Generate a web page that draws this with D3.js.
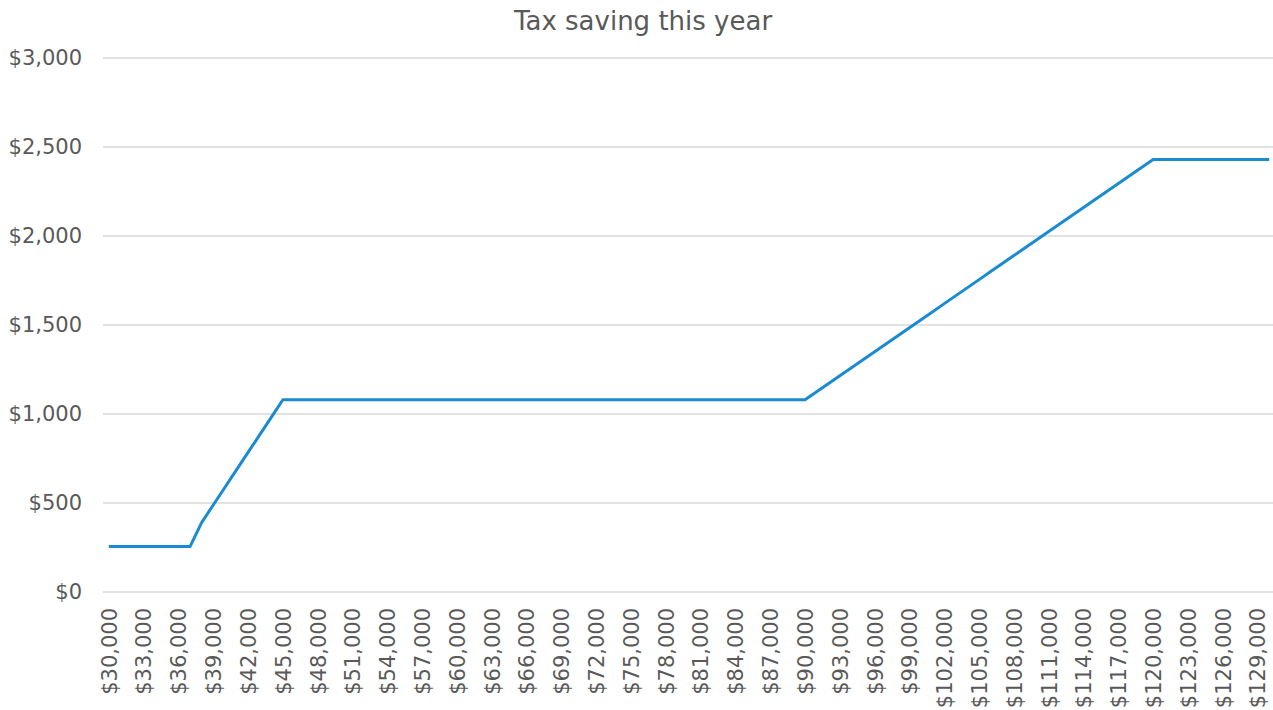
<!DOCTYPE html>
<html>
<head>
<meta charset="utf-8">
<script src="https://cdn.jsdelivr.net/npm/d3@7"></script>
<style>
  body { margin: 0; background: #fff; }
  svg { display: block; font-family: "DejaVu Sans", Verdana, sans-serif; }
</style>
</head>
<body>
<svg id="chart"></svg>
<script>
const width = 1273, height = 710;
const margin = { top: 58, right: -2, bottom: 118, left: 103 };

// Chart data
const chartTitle = "Tax saving this year";
const incomes = [
  30000, 31000, 32000, 33000, 34000, 35000, 36000, 37000, 38000, 39000,
  40000, 41000, 42000, 43000, 44000, 45000, 46000, 47000, 48000, 49000,
  50000, 51000, 52000, 53000, 54000, 55000, 56000, 57000, 58000, 59000,
  60000, 61000, 62000, 63000, 64000, 65000, 66000, 67000, 68000, 69000,
  70000, 71000, 72000, 73000, 74000, 75000, 76000, 77000, 78000, 79000,
  80000, 81000, 82000, 83000, 84000, 85000, 86000, 87000, 88000, 89000,
  90000, 91000, 92000, 93000, 94000, 95000, 96000, 97000, 98000, 99000,
  100000, 101000, 102000, 103000, 104000, 105000, 106000, 107000, 108000, 109000,
  110000, 111000, 112000, 113000, 114000, 115000, 116000, 117000, 118000, 119000,
  120000, 121000, 122000, 123000, 124000, 125000, 126000, 127000, 128000, 129000,
  130000
];
const savings = [
  255, 255, 255, 255, 255, 255, 255, 255, 390, 489,
  587, 686, 784, 883, 981, 1080, 1080, 1080, 1080, 1080,
  1080, 1080, 1080, 1080, 1080, 1080, 1080, 1080, 1080, 1080,
  1080, 1080, 1080, 1080, 1080, 1080, 1080, 1080, 1080, 1080,
  1080, 1080, 1080, 1080, 1080, 1080, 1080, 1080, 1080, 1080,
  1080, 1080, 1080, 1080, 1080, 1080, 1080, 1080, 1080, 1080,
  1080, 1125, 1170, 1215, 1260, 1305, 1350, 1395, 1440, 1485,
  1530, 1575, 1620, 1665, 1710, 1755, 1800, 1845, 1890, 1935,
  1980, 2025, 2070, 2115, 2160, 2205, 2250, 2295, 2340, 2385,
  2430, 2430, 2430, 2430, 2430, 2430, 2430, 2430, 2430, 2430,
  2430
];
const yTicks = [0, 500, 1000, 1500, 2000, 2500, 3000];
const xTickLabels = incomes.filter((d, i) => i % 3 === 0 && i < 100);

const data = incomes.map((d, i) => ({ income: d, value: savings[i] }));

const fmt = d => "$" + d3.format(",")(d);

const svg = d3.select("#chart")
    .attr("width", width)
    .attr("height", height)
    .attr("viewBox", [0, 0, width, height]);

// Scales
const xScale = d3.scalePoint()
    .domain(incomes)
    .range([margin.left, width - margin.right])
    .padding(0.5);
const yScale = d3.scaleLinear()
    .domain([0, 3000])
    .range([height - margin.bottom, margin.top]);

// Title
svg.append("text")
    .attr("x", 643)
    .attr("y", 30)
    .attr("text-anchor", "middle")
    .attr("font-size", 26)
    .attr("fill", "#595959")
    .text(chartTitle);

// Gridlines
svg.append("g")
    .selectAll("line")
    .data(yTicks)
    .enter()
    .append("line")
    .attr("x1", margin.left)
    .attr("x2", width)
    .attr("y1", d => yScale(d))
    .attr("y2", d => yScale(d))
    .attr("stroke", "#d9d9d9")
    .attr("stroke-width", 1.3);

// Y axis labels
const yAxis = svg.append("g")
    .attr("transform", `translate(${margin.left - 21},0)`)
    .call(d3.axisLeft(yScale).tickValues(yTicks).tickFormat(fmt).tickSize(0).tickPadding(0));
yAxis.select(".domain").remove();
yAxis.selectAll("text")
    .attr("font-size", 21)
    .attr("font-family", "DejaVu Sans, Verdana, sans-serif")
    .attr("fill", "#595959");

// X axis labels
const xAxis = svg.append("g")
    .attr("transform", `translate(0,${height - margin.bottom})`)
    .call(d3.axisBottom(xScale).tickValues(xTickLabels).tickFormat(fmt).tickSize(0));
xAxis.select(".domain").remove();
xAxis.selectAll("text")
    .attr("font-size", 21)
    .attr("font-family", "DejaVu Sans, Verdana, sans-serif")
    .attr("fill", "#595959")
    .attr("text-anchor", "end")
    .attr("transform", "rotate(-90)")
    .attr("x", -16)
    .attr("y", 0)
    .attr("dy", "0.35em");

// Line
const line = d3.line()
    .x(d => xScale(d.income))
    .y(d => yScale(d.value));

svg.append("path")
    .datum(data)
    .attr("fill", "none")
    .attr("stroke", "#1a8bd0")
    .attr("stroke-width", 3)
    .attr("stroke-linejoin", "round")
    .attr("d", line);
</script>
</body>
</html>
